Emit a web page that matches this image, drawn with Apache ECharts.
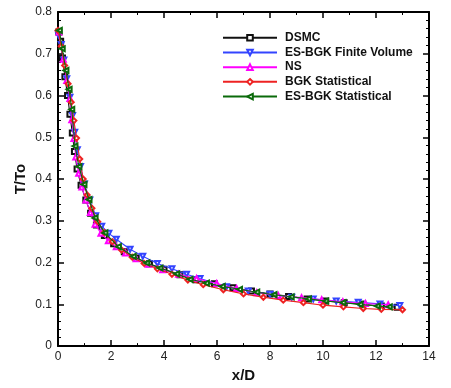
<!DOCTYPE html>
<html><head><meta charset="utf-8">
<script src="https://cdn.jsdelivr.net/npm/echarts@6/dist/echarts.min.js"></script>
<style>html,body{margin:0;padding:0;background:#fff}#c{width:451px;height:388px}</style>
</head><body><div id="c"></div>
<script>
// ---- data ----
const seriesNames = ['DSMC','ES-BGK Finite Volume','NS','BGK Statistical','ES-BGK Statistical'];
const xTicks = [0,2,4,6,8,10,12,14];
const yTicks = [0,0.1,0.2,0.3,0.4,0.5,0.6,0.7,0.8];

const dsmcX = [0.03,0.10,0.17,0.26,0.36,0.45,0.54,0.62,0.72,0.87,1.05,1.23,1.45,1.75,2.10,2.50,2.95,3.45,4.00,4.60,5.20,5.90,6.60,7.30,8.00,8.70,9.40,10.10,10.80,11.50,12.20,12.80];
const dsmcT = [0.752,0.730,0.690,0.645,0.600,0.555,0.510,0.466,0.424,0.385,0.350,0.318,0.290,0.265,0.245,0.226,0.211,0.197,0.184,0.171,0.159,0.149,0.140,0.132,0.125,0.119,0.113,0.108,0.104,0.100,0.096,0.093];

const fvX = [0.02,0.12,0.22,0.33,0.45,0.55,0.63,0.73,0.85,1.00,1.20,1.42,1.65,1.92,2.20,2.72,3.20,3.75,4.30,4.85,5.36,6.36,7.18,8.00,8.82,9.63,10.50,11.33,12.15,12.90];
const fvT = [0.745,0.722,0.685,0.640,0.596,0.552,0.512,0.470,0.430,0.388,0.350,0.312,0.287,0.270,0.256,0.232,0.215,0.198,0.185,0.172,0.162,0.142,0.132,0.124,0.117,0.113,0.108,0.105,0.101,0.097];

const nsX = [0.04,0.20,0.33,0.45,0.52,0.60,0.67,0.78,0.90,1.05,1.22,1.40,1.62,1.90,2.20,2.55,2.95,3.40,3.95,4.55,5.23,5.99,6.74,7.50,8.31,9.19,9.95,10.75,11.60,12.46];
const nsT = [0.752,0.687,0.636,0.593,0.542,0.497,0.453,0.414,0.381,0.350,0.320,0.292,0.270,0.252,0.238,0.223,0.209,0.196,0.183,0.172,0.162,0.150,0.138,0.128,0.121,0.116,0.111,0.106,0.102,0.099];

const bgkX = [0.00,0.12,0.25,0.38,0.50,0.60,0.70,0.82,0.95,1.10,1.28,1.50,1.75,2.05,2.40,2.80,3.25,3.75,4.30,4.90,5.48,6.24,7.00,7.75,8.50,9.26,10.00,10.77,11.52,12.20,13.00];
const bgkT = [0.756,0.718,0.672,0.628,0.584,0.540,0.498,0.448,0.400,0.362,0.330,0.298,0.272,0.250,0.230,0.213,0.198,0.185,0.172,0.158,0.147,0.135,0.125,0.117,0.110,0.104,0.098,0.094,0.090,0.088,0.087];

const esX = [0.05,0.16,0.30,0.42,0.52,0.64,0.79,0.98,1.17,1.40,1.77,2.28,2.84,3.35,3.85,4.48,4.98,5.60,6.20,6.85,7.50,8.15,8.80,9.45,10.10,10.75,11.40,12.05,12.50];
const esT = [0.756,0.712,0.660,0.615,0.567,0.479,0.430,0.387,0.351,0.307,0.271,0.238,0.215,0.199,0.187,0.173,0.160,0.151,0.143,0.136,0.129,0.123,0.118,0.113,0.108,0.104,0.100,0.096,0.094];

// ---- chart ----
function pairs(xs, ys){ return xs.map((x,i)=>[x, ys[i]]); }
const seriesData = [pairs(dsmcX,dsmcT), pairs(fvX,fvT), pairs(nsX,nsT), pairs(bgkX,bgkT), pairs(esX,esT)];
const colors = ['#111111','#3344ff','#ff00ff','#ee2222','#0a6a0a'];
const symbols = ['emptyRect','emptyTriangle','emptyTriangle','emptyDiamond','emptyTriangle'];
const rotates = [0,180,0,0,90];

const chart = echarts.init(document.getElementById('c'), null, {renderer:'canvas'});
const font = 'Liberation Sans, Arial, sans-serif';
const axisCommon = {
  axisLine:{show:true, onZero:false, lineStyle:{color:'#000', width:2}},
  axisTick:{show:true, inside:true, length:6, lineStyle:{color:'#000', width:1.5}},
  splitLine:{show:false}
};
function minor(n){ return {show:true, splitNumber:n, length:3, lineStyle:{color:'#000', width:1}}; }
chart.setOption({
  animation:false,
  backgroundColor:'#fff',
  grid:{left:58, right:22, top:12, bottom:36},
  legend:{
    orient:'vertical', left:222, top:31, padding:0, itemWidth:54, itemHeight:7, itemGap:1.2,
    textStyle:{fontFamily:font, fontWeight:'bold', fontSize:12, lineHeight:13.5, color:'#111', padding:[0,0,0,3]},
    data: seriesNames
  },
  xAxis:[
    Object.assign({type:'value', min:0, max:14, interval:2, position:'bottom',
      name:'x/D', nameLocation:'middle', nameGap:21,
      nameTextStyle:{fontFamily:font, fontWeight:'bold', fontSize:15, color:'#111'},
      axisLabel:{fontFamily:font, fontSize:12, color:'#222', margin:5},
      minorTick:minor(2)
    }, axisCommon),
    Object.assign({type:'value', min:0, max:14, interval:2, position:'top',
      axisLabel:{show:false}, minorTick:minor(2)
    }, axisCommon)
  ],
  yAxis:[
    Object.assign({type:'value', min:0, max:0.8, interval:0.1, position:'left',
      name:'T/To', nameLocation:'middle', nameGap:30, nameMoveOverlap:false,
      nameTextStyle:{fontFamily:font, fontWeight:'bold', fontSize:15, color:'#111'},
      axisLabel:{fontFamily:font, fontSize:12, color:'#222', margin:6,
        formatter:v=>String(Math.round(v*10)/10)},
      minorTick:minor(5)
    }, axisCommon),
    Object.assign({type:'value', min:0, max:0.8, interval:0.1, position:'right',
      axisLabel:{show:false}, minorTick:minor(5)
    }, axisCommon)
  ],
  series: seriesNames.map((n,i)=>({
    name:n, type:'line', xAxisIndex:0, yAxisIndex:0,
    data: seriesData[i],
    symbol: symbols[i], symbolSize: 5, symbolRotate: rotates[i],
    showAllSymbol:true,
    lineStyle:{color:colors[i], width:1.1},
    itemStyle:{color:colors[i], borderWidth:1},
    z: 2+i
  }))
});
</script>
</body></html>
